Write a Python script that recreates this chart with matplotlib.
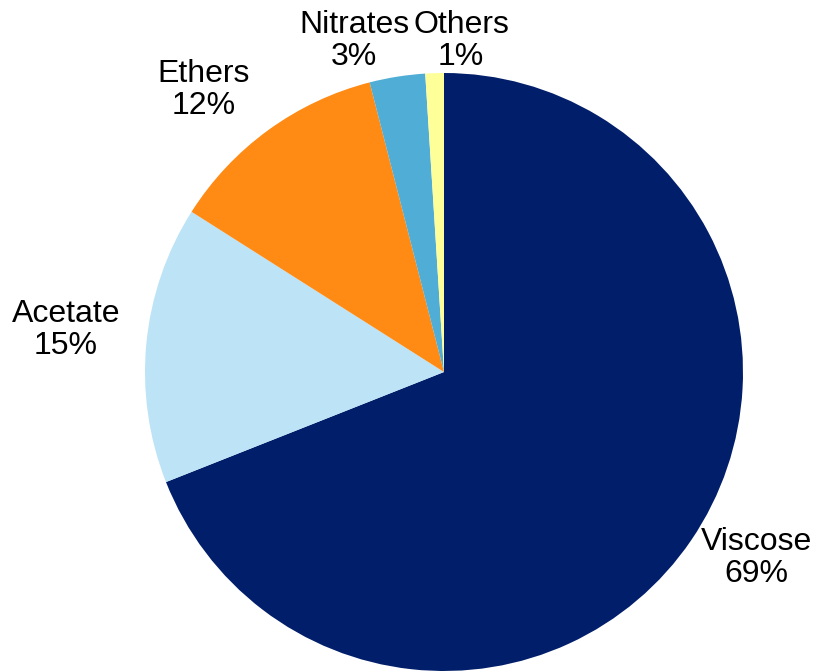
import matplotlib
matplotlib.use("Agg")
import matplotlib.pyplot as plt

categories = ["Viscose", "Acetate", "Ethers", "Nitrates", "Others"]
values = [69, 15, 12, 3, 1]
colors = ["#011E6A", "#BDE3F6", "#FF8A14", "#4FADD6", "#FFFF9A"]

W, H = 813, 671
fig = plt.figure(figsize=(W / 100, H / 100), dpi=100)
ax = fig.add_axes([0, 0, 1, 1])

center = (444, H - 372)
radius = 299
wedges, _ = ax.pie(values, colors=colors, startangle=90, counterclock=False,
                   center=center, radius=radius, frame=True)
ax.set_xlim(0, W)
ax.set_ylim(0, H)
ax.set_aspect("equal")
ax.axis("off")

# label positions (pixel layout, top-left origin)
label_pos = [(756, 558), (66, 330), (204, 90), (354, 41), (461, 41)]
for cat, v, (px, py) in zip(categories, values, label_pos):
    ax.text(px, H - py, f"{cat}\n{v}%", ha="center", va="center",
            multialignment="center", fontsize=23, linespacing=1.13,
            family=["Liberation Sans", "DejaVu Sans"], color="black")

fig.savefig("out.png", dpi=100)
